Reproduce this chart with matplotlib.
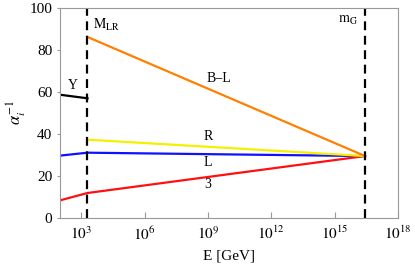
import numpy as np
import matplotlib
matplotlib.use('Agg')
from matplotlib import pyplot as plt

# scales (GeV)
m_low = 10**2.0
m_lr = 2.0e3
m_g = 10**16.44
alpha_g = 29.5

# inverse couplings at the chain points
y_vals = [58.7, 57.0]          # below M_LR
l_vals = [29.7, 31.1, alpha_g]  # low, M_LR, m_G
c3_vals = [8.4, 11.9, alpha_g]
r_vals = [37.3, alpha_g]        # M_LR -> m_G
bl_vals = [86.2, alpha_g]

x_ticks = [1e3, 1e6, 1e9, 1e12, 1e15, 1e18]
x_labels = [r'$10^{%d}$' % int(np.log10(t)) for t in x_ticks]
y_ticks = [0, 20, 40, 60, 80, 100]

plt.rcParams['font.family'] = ['Liberation Serif', 'DejaVu Serif']
plt.rcParams['mathtext.fontset'] = 'stix'

fig = plt.figure(figsize=(4.15, 2.67), dpi=100)
ax = fig.add_axes([60 / 415, 1 - 218 / 267, 338 / 415, 210 / 267])

lw = 1.6
ax.plot([m_low, m_lr], y_vals, color='black', lw=lw)
ax.plot([m_low, m_lr, m_g], l_vals, color='#1010ff', lw=lw)
ax.plot([m_low, m_lr, m_g], c3_vals, color='#ff1010', lw=lw)
ax.plot([m_lr, m_g], r_vals, color='#f5f000', lw=lw)
ax.plot([m_lr, m_g], bl_vals, color='#ff8000', lw=lw)

ax.axvline(m_lr, color='black', lw=1.6, ls=(0, (4, 2.5)))
ax.axvline(m_g, color='black', lw=1.6, ls=(0, (4, 2.5)))

ax.set_xscale('log')
ax.set_xlim(1e2, 1e18)
ax.set_ylim(0, 100)
ax.set_xticks(x_ticks)
ax.set_xticklabels(x_labels)
ax.set_xticks([], minor=True)
ax.set_yticks(y_ticks)

for s in ax.spines.values():
    s.set_color('#999999')
ax.tick_params(axis='x', direction='in', length=4, color='#999999',
               labelsize=11, pad=5)
ax.tick_params(axis='y', direction='out', length=2.5, color='#999999',
               labelsize=11, pad=3)

ax.set_xlabel('E [GeV]', fontsize=11, labelpad=5)
ax.set_ylabel(r'$\alpha_i^{-1}$', fontsize=12)
ax.yaxis.set_label_coords(-0.095, 0.5)

fs = 10
ax.text(10**2.6, 63, 'Y', fontsize=fs, ha='center', va='center')
ax.text(10**9.5, 66.5, 'B\u2013L', fontsize=fs, ha='center', va='center')
ax.text(10**9.0, 39, 'R', fontsize=fs, ha='center', va='center')
ax.text(10**9.0, 26.5, 'L', fontsize=fs, ha='center', va='center')
ax.text(10**9.0, 16, '3', fontsize=fs, ha='center', va='center')
ax.text(10**3.55, 92, r'$\mathrm{M_{LR}}$', fontsize=fs, ha='left', va='center')
ax.text(10**16.1, 94, r'$\mathrm{m_G}$', fontsize=fs, ha='right', va='center')

fig.savefig('out.png', dpi=100)
